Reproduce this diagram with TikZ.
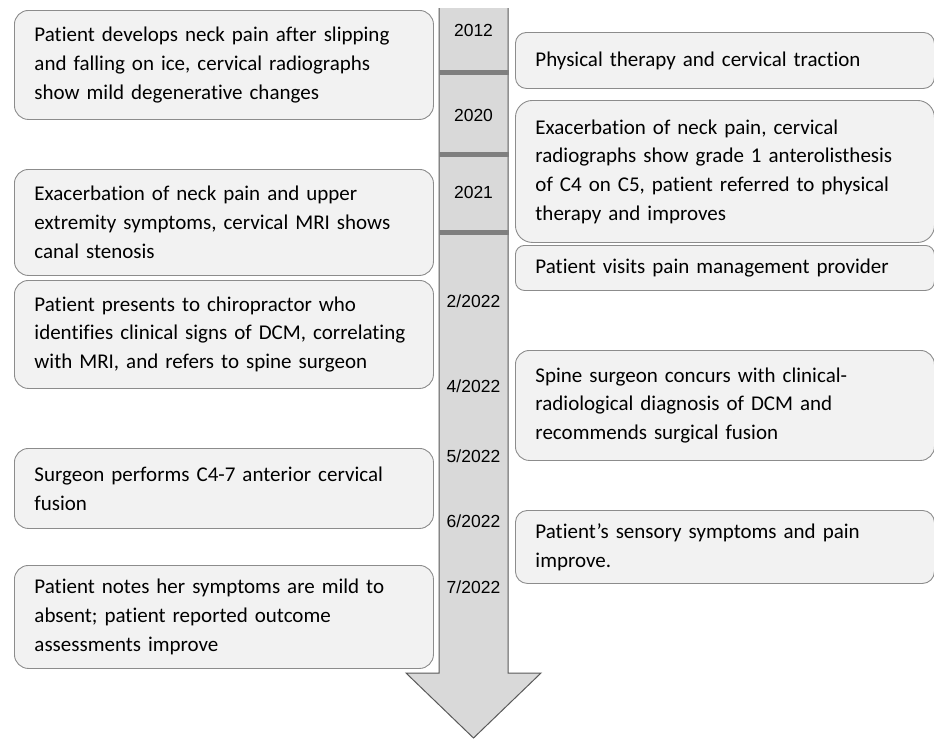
\documentclass[tikz,border=0pt]{standalone}
\usepackage{fontspec}
\setmainfont{Carlito}[Ligatures=NoCommon]
\newfontfamily\datefont{Liberation Sans}
\definecolor{boxfill}{HTML}{F2F2F2}
\definecolor{boxline}{HTML}{8C8C8C}
\definecolor{barfill}{HTML}{D9D9D9}
\definecolor{barline}{HTML}{595959}
\definecolor{band}{HTML}{7F7F7F}
\begin{document}
\begin{tikzpicture}[x=1pt,y=-1pt,
	event/.style={draw=boxline,fill=boxfill,line width=0.9pt,rounded corners=14pt,anchor=north west,
		minimum width=419pt,text width=379pt,inner xsep=20pt,inner ysep=0pt,align=left,
		font=\fontsize{21}{28.7}\selectfont},
	year/.style={font=\datefont\fontsize{17.5}{19}\selectfont,inner sep=0pt}]
				\useasboundingbox (0,0) rectangle (934,740);
				\coordinate (T) at (473.5,738);
				\coordinate (BL) at (439,673);
				\coordinate (BR) at (508,673);
				\fill[barfill] (439,8) -- (BL) -- (406,673) -- (T) -- (541,673) -- (BR) -- (508,8) -- cycle;
				\draw[barline, line width=1pt, line join=miter] (439,8) -- (BL) -- (406,673) -- (T) -- (541,673) -- (BR) -- (508,8);
				\foreach \y in {72,154,232}
					\fill[band] (438.5,\y-2.5) rectangle (508.5,\y+2.5);
				\node[year] (Y1) at (473.5,30) {2012};
				\node[year] (Y2) at (473.5,115) {2020};
				\node[year] (Y3) at (473.5,192) {2021};
				\node[year] (Y4) at (473.5,301) {2/2022};
				\node[year] (Y5) at (473.5,386) {4/2022};
				\node[year] (Y6) at (473.5,456) {5/2022};
				\node[year] (Y7) at (473.5,521) {6/2022};
				\node[year] (Y8) at (473.5,587) {7/2022};
				% left column
				\node[event, minimum height=109pt] (L1) at (14,10) {Patient develops neck pain after slipping\\and falling on ice, cervical radiographs\\show mild degenerative changes};
				\node[event, minimum height=106pt] (L2) at (14,169) {Exacerbation of neck pain and upper\\extremity symptoms, cervical MRI shows\\canal stenosis};
				\node[event, minimum height=108pt] (L3) at (14,280) {Patient presents to chiropractor who\\identifies clinical signs of DCM, correlating\\with MRI, and refers to spine surgeon};
				\node[event, minimum height=80pt] (L4) at (14,448) {Surgeon performs C4-7 anterior cervical\\fusion};
				\node[event, minimum height=103pt] (L5) at (14,565) {Patient notes her symptoms are mild to\\absent; patient reported outcome\\assessments improve};
				% right column
				\node[event, minimum height=56pt, rounded corners=11pt] (R1) at (515,32) {Physical therapy and cervical traction};
				\node[event, minimum height=142pt, rounded corners=17pt] (R2) at (515,100) {Exacerbation of neck pain, cervical\\radiographs show grade 1 anterolisthesis\\of C4 on C5, patient referred to physical\\therapy and improves};
				\node[event, minimum height=45pt, rounded corners=9pt] (R3) at (515,245) {Patient visits pain management provider};
				\node[event, minimum height=110pt] (R4) at (515,350) {Spine surgeon concurs with clinical-\\radiological diagnosis of DCM and\\recommends surgical fusion};
				\node[event, minimum height=73pt, rounded corners=12pt] (R5) at (515,510) {Patient’s sensory symptoms and pain\\improve.};
\end{tikzpicture}
\end{document}
